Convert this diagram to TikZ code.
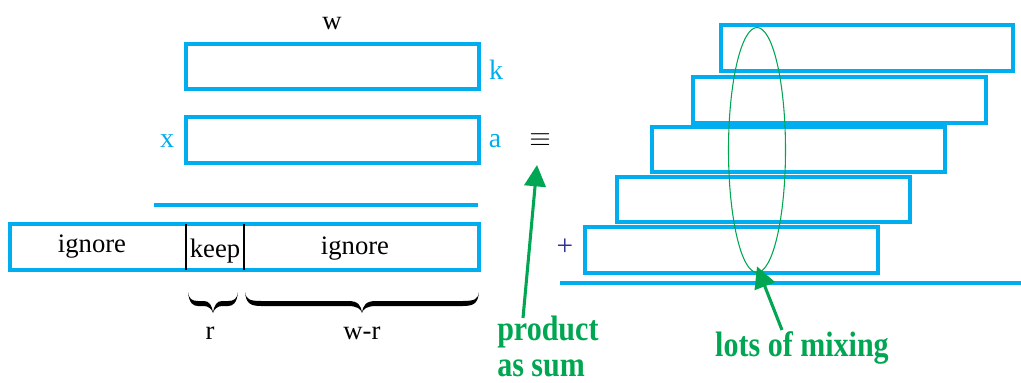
\documentclass[tikz,border=0pt]{standalone}
\usepackage{fontspec}
\setmainfont{Liberation Serif}
\newfontfamily\gfont{Liberation Serif}[FakeStretch=0.85]
\usetikzlibrary{arrows.meta,shapes.geometric,calc}
\definecolor{cy}{RGB}{0,174,239}
\definecolor{gr}{RGB}{0,166,81}
\definecolor{pl}{RGB}{46,49,146}
% filled curly brace: #1 left x, #2 right x, #3 top y, #4 end length, #5 middle half-width
\newcommand\cbrace[5]{%
  \fill[black] (#1,#3) .. controls ({#1+1},{#3+7}) and ({#1+4},{#3+9}) .. ({#1+#4},{#3+9})
    -- ({(#1+#2)/2-#5},{#3+9}) .. controls ({(#1+#2)/2-4},{#3+9}) and ({(#1+#2)/2-1},{#3+13}) .. ({(#1+#2)/2},{#3+21})
    .. controls ({(#1+#2)/2+1},{#3+13}) and ({(#1+#2)/2+4},{#3+9}) .. ({(#1+#2)/2+#5},{#3+9})
    -- ({#2-#4},{#3+9}) .. controls ({#2-4},{#3+9}) and ({#2-1},{#3+7}) .. (#2,#3)
    .. controls ({#2-1},{#3+11}) and ({#2-5},{#3+14}) .. ({#2-#4},{#3+14})
    -- ({(#1+#2)/2+#5},{#3+14}) .. controls ({(#1+#2)/2+5},{#3+14}) and ({(#1+#2)/2+1},{#3+17}) .. ({(#1+#2)/2},{#3+21})
    .. controls ({(#1+#2)/2-1},{#3+17}) and ({(#1+#2)/2-5},{#3+14}) .. ({(#1+#2)/2-#5},{#3+14})
    -- ({#1+#4},{#3+14}) .. controls ({#1+5},{#3+14}) and ({#1+1},{#3+11}) .. (#1,#3) -- cycle;}
\begin{document}
\begin{tikzpicture}[x=0.75pt,y=-0.75pt,
  box/.style={draw=cy,line width=2.4pt},
  cyline/.style={draw=cy,line width=2.3pt},
  divider/.style={draw=black,line width=1.9pt},
  lbl/.style={font=\fontsize{20}{24}\selectfont,inner sep=0pt,anchor=base},
  clbl/.style={inner sep=0pt,anchor=base,text=cy,font=\fontsize{21}{25}\selectfont},
  glbl/.style={text=gr,font=\gfont\bfseries\fontsize{26.5}{30}\selectfont,inner sep=0pt},
  garrow/.style={draw=gr,line width=2.3pt,-{Triangle[length=16pt,width=16pt]}}]
\useasboundingbox (0,0) rectangle (1021,382);

% left column
\node[lbl] (w) at (332,29) {w};
\draw[box] (186,44) rectangle (479,89);
\node[clbl] (k) at (496,79) {k};
\draw[box] (186,117) rectangle (479,163);
\node[clbl] (a) at (495,147) {a};
\node[clbl] (x) at (167,147) {x};
\draw[cyline] (154,205) -- (478,205);

\draw[box] (10,224) rectangle (479,270);
\draw[divider] (186,224) -- (186,270);
\draw[divider] (244,224) -- (244,270);
\node[lbl] (ign1) at (92,252) {ignore};
\node[lbl] (keep) at (215,257) {keep};
\node[lbl] (ign2) at (355,254) {ignore};

\cbrace{188}{238}{292}{10}{9}
\cbrace{245}{479}{292}{16}{14}
\node[lbl] (r) at (210,339) {r};
\node[lbl] (wr) at (362,339) {w-r};

% equivalence
\node[font=\fontsize{20.5}{24}\selectfont,inner sep=0pt] (eq) at (540,140) {$\equiv$};
\node[glbl,anchor=base west] (prod) at (497,340) {product};
\node[glbl,anchor=base west] (asum) at (497,376) {as sum};
\coordinate (t1) at (523,318);
\draw[garrow] (t1) -- ($(eq.center)+(-3,25)$);

% right column
\draw[box] (721,25) rectangle (1013,71);
\draw[box] (693,77) rectangle (986,123);
\draw[box] (652,127) rectangle (945,172);
\draw[box] (617,177) rectangle (910,222);
\draw[box] (585,227) rectangle (878,273);
\node[text=pl,font=\fontsize{22}{26}\selectfont,inner sep=0pt] (plus) at (565,247) {+};
\draw[cyline] (560,283) -- (1021,283);

\node[draw=gr,line width=0.8pt,ellipse,minimum width=42.75pt,minimum height=183.75pt,inner sep=0pt] (ell) at (757,150) {};
\node[glbl,anchor=base] (mix) at (802,356) {lots of mixing};
\coordinate (t2) at (782,330);
\draw[garrow] (t2) -- ([yshift=5pt]ell.south);
\end{tikzpicture}
\end{document}
